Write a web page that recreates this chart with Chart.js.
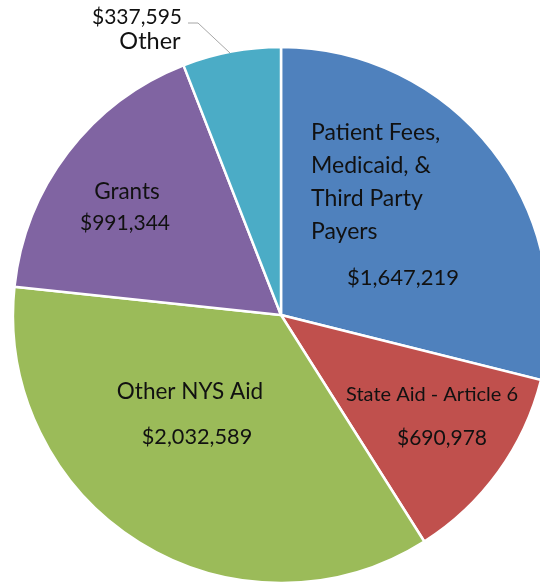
<!DOCTYPE html>
<html><head><meta charset="utf-8">
<script src="https://cdn.jsdelivr.net/npm/chart.js@4"></script>
<style>html,body{margin:0;padding:0;background:#fff;overflow:hidden}#wrap{position:relative;width:540px;height:583px}</style>
</head><body><div id="wrap"><canvas id="c" width="540" height="583"></canvas></div>
<script>
const categories = ["Patient Fees, Medicaid, & Third Party Payers", "State Aid - Article 6", "Other NYS Aid", "Grants", "Other"];
const values = [1647219, 690978, 2032589, 991344, 337595];
const colors = ["#4F81BD", "#C0504D", "#9BBB59", "#8064A2", "#4BACC6"];
const nameLines = [["Patient Fees,", "Medicaid, &", "Third Party", "Payers"], ["State Aid - Article 6"], ["Other NYS Aid"], ["Grants"], ["Other"]];

const FONT = "Lato, 'Open Sans', sans-serif";
const fmt = v => "$" + v.toLocaleString("en-US");

// label placement (offsets from pie centre, px at reference radius 268)
const REF_R = 268;
const spots = [
  {name: {x: 30, y: -182, step: 33, align: "left", size: 23}, value: {x: 122, y: -37, align: "center", size: 22}},
  {name: {x: 151, y: 80, step: 0, align: "center", size: 20}, value: {x: 161, y: 123, align: "center", size: 21}},
  {name: {x: -91, y: 77, step: 0, align: "center", size: 22.5}, value: {x: -84, y: 122, align: "center", size: 21.7}},
  {name: {x: -154, y: -123, step: 0, align: "center", size: 22.5}, value: {x: -156, y: -92, align: "center", size: 21}},
  {name: {x: -131, y: -274, step: 0, align: "center", size: 23.5}, value: {x: -99, y: -298, align: "right", size: 21},
   leader: [[-93, -292], [-83, -292], [-51, -262]]}
];

const labelPlugin = {
  id: "sliceLabels",
  afterDatasetsDraw(chart) {
    const ctx = chart.ctx;
    const meta = chart.getDatasetMeta(0);
    meta.data.forEach((arc, i) => {
      const s = spots[i];
      const k = arc.outerRadius / REF_R;
      const cx = arc.x, cy = arc.y;
      ctx.save();
      ctx.fillStyle = "#111111";
      ctx.textBaseline = "middle";
      if (s.leader) {
        ctx.strokeStyle = "#a6a6a6";
        ctx.lineWidth = 1;
        ctx.beginPath();
        s.leader.forEach((p, j) => {
          const px = cx + p[0] * k, py = cy + p[1] * k;
          j ? ctx.lineTo(px, py) : ctx.moveTo(px, py);
        });
        ctx.stroke();
      }
      ctx.font = s.name.size + "px " + FONT;
      ctx.textAlign = s.name.align;
      nameLines[i].forEach((t, j) => {
        ctx.fillText(t, cx + s.name.x * k, cy + (s.name.y + j * s.name.step) * k);
      });
      ctx.font = s.value.size + "px " + FONT;
      ctx.textAlign = s.value.align;
      ctx.fillText(fmt(values[i]), cx + s.value.x * k, cy + s.value.y * k);
      ctx.restore();
    });
  }
};

new Chart(document.getElementById("c"), {
  type: "pie",
  data: {
    labels: categories,
    datasets: [{data: values, backgroundColor: colors, borderColor: "#ffffff", borderWidth: 2.5}]
  },
  options: {
    responsive: false,
    animation: false,
    radius: 268,
    layout: {padding: {left: 22, top: 47, right: 0, bottom: 0}},
    plugins: {legend: {display: false}, tooltip: {enabled: false}}
  },
  plugins: [labelPlugin]
});
</script></body></html>
